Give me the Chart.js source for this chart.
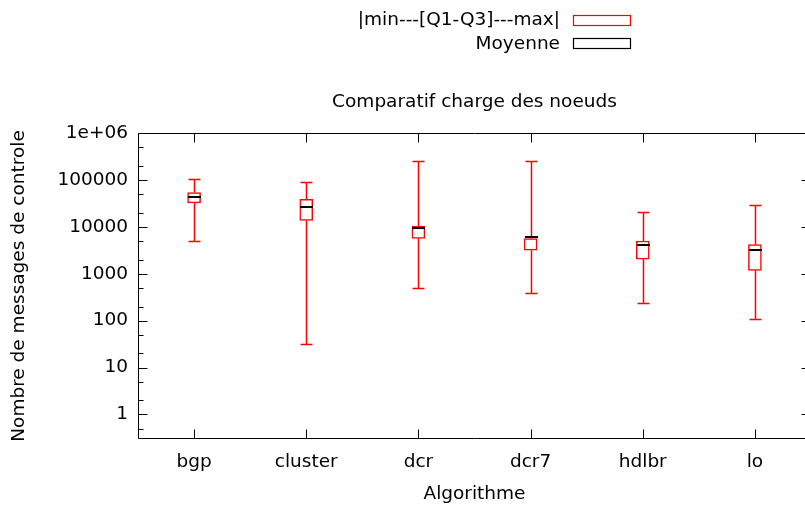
<!DOCTYPE html>
<html>
<head>
<meta charset="utf-8">
<script src="https://cdn.jsdelivr.net/npm/chart.js@4"></script>
<style>
html,body{margin:0;padding:0;overflow:hidden;background:#fff;}
#wrap{position:absolute;left:0;top:0;width:812px;height:506px;}
</style>
</head>
<body>
<div id="wrap"><canvas id="c"></canvas></div>
<script>
const categories = ['bgp','cluster','dcr','dcr7','hdlbr','lo'];
const minVals  = [5030, 32, 500, 390, 240, 110];
const q1Vals   = [32300, 13700, 5640, 3170, 2050, 1170];
const q3Vals   = [53600, 38700, 10200, 5640, 4980, 4160];
const maxVals  = [106000, 89500, 258000, 255000, 21000, 29700];
const meanVals = [44000, 26500, 9570, 6070, 4000, 3190];
const yTicks = [0.5,1,2,5,10,20,50,100,200,500,1000,2000,5000,10000,20000,50000,100000,200000,500000,1000000];
const chartTitle = 'Comparatif charge des noeuds';
const legendLabels = ['|min---[Q1-Q3]---max|', 'Moyenne'];

const FONT = '"DejaVu Sans"';
const FS = 18.5;
Chart.defaults.font.family = FONT;
Chart.defaults.font.size = FS;
Chart.defaults.color = '#000';

const isMajor = v => Math.abs(Math.log10(v) - Math.round(Math.log10(v))) < 1e-9;
const fmt = v => v >= 1e6 ? '1e+06' : String(v);

const boxPlugin = {
  id: 'boxExtras',
  afterDatasetsDraw(chart) {
    const ctx = chart.ctx, x = chart.scales.x, y = chart.scales.y;
    ctx.save();
    ctx.strokeStyle = '#ff0000';
    ctx.lineWidth = 1.5;
    for (let i = 0; i < categories.length; i++) {
      const cx = Math.round(x.getPixelForValue(i)) + 0.5;
      const pMin = Math.round(y.getPixelForValue(minVals[i])) + 0.5;
      const pMax = Math.round(y.getPixelForValue(maxVals[i])) + 0.5;
      const pQ1 = y.getPixelForValue(q1Vals[i]);
      const pQ3 = y.getPixelForValue(q3Vals[i]);
      ctx.beginPath();
      ctx.moveTo(cx, pMin); ctx.lineTo(cx, pQ1);
      ctx.moveTo(cx, pQ3); ctx.lineTo(cx, pMax);
      ctx.moveTo(cx - 6, pMin); ctx.lineTo(cx + 6, pMin);
      ctx.moveTo(cx - 6, pMax); ctx.lineTo(cx + 6, pMax);
      ctx.stroke();
    }
    ctx.strokeStyle = '#000';
    ctx.lineWidth = 2;
    for (let i = 0; i < categories.length; i++) {
      const cx = Math.round(x.getPixelForValue(i)) + 0.5;
      const pm = Math.round(y.getPixelForValue(meanVals[i]));
      ctx.beginPath();
      ctx.moveTo(cx - 6.5, pm); ctx.lineTo(cx + 6.5, pm);
      ctx.stroke();
    }
    ctx.restore();
  },
  afterDraw(chart) {
    const ctx = chart.ctx, x = chart.scales.x, y = chart.scales.y;
    const a = chart.chartArea;
    const L = Math.round(a.left) + 0.5, R = Math.round(a.right) - 0.5;
    const T = Math.round(a.top) + 0.5, B = Math.round(a.bottom) - 0.5;
    ctx.save();
    ctx.strokeStyle = '#000';
    ctx.lineWidth = 1;
    ctx.beginPath();
    ctx.rect(L, T, R - L, B - T);
    yTicks.forEach(v => {
      const p = Math.round(y.getPixelForValue(v)) + 0.5;
      if (p < T || p > B) return;
      const len = isMajor(v) ? 9 : 5;
      ctx.moveTo(L, p); ctx.lineTo(L + len, p);
      ctx.moveTo(R, p); ctx.lineTo(R - len, p);
    });
    for (let i = 0; i < categories.length; i++) {
      const p = Math.round(x.getPixelForValue(i)) + 0.5;
      ctx.moveTo(p, B); ctx.lineTo(p, B - 9);
      ctx.moveTo(p, T); ctx.lineTo(p, T + 9);
    }
    ctx.stroke();

    ctx.fillStyle = '#000';
    ctx.font = FS + 'px ' + FONT;
    ctx.textAlign = 'center';
    ctx.textBaseline = 'middle';
    ctx.fillText(chartTitle, (a.left + a.right) / 2, 102);

    ctx.textAlign = 'right';
    ctx.fillText(legendLabels[0], 560, 20);
    ctx.fillText(legendLabels[1], 560, 44);
    ctx.lineWidth = 1.2;
    ctx.strokeStyle = '#ff0000';
    ctx.strokeRect(573.5, 15.5, 57, 10);
    ctx.strokeStyle = '#000';
    ctx.strokeRect(573.5, 38.5, 57, 10);
    ctx.restore();
  }
};

new Chart(document.getElementById('c'), {
  type: 'bar',
  data: {
    labels: categories,
    datasets: [{
      label: legendLabels[0],
      data: categories.map((c, i) => [q1Vals[i], q3Vals[i]]),
      backgroundColor: '#ffffff',
      borderColor: '#ff0000',
      borderWidth: 1.5,
      borderSkipped: false,
      barThickness: 13
    }]
  },
  options: {
    responsive: true,
    maintainAspectRatio: false,
    animation: false,
    layout: { padding: { top: 133, left: 0, right: 1, bottom: 0 } },
    plugins: { legend: { display: false }, tooltip: { enabled: false }, title: { display: false } },
    scales: {
      x: {
        type: 'category',
        offset: true,
        grid: { display: false, drawTicks: false },
        border: { display: false },
        ticks: { padding: 12, maxRotation: 0, autoSkip: false, font: { size: FS } },
        title: { display: true, text: 'Algorithme', padding: { top: 0, bottom: 1 }, font: { size: FS } },
        afterFit(s) { s.height = 67; }
      },
      y: {
        type: 'logarithmic',
        min: 0.3,
        max: 1000000,
        grid: { display: false, drawTicks: false },
        border: { display: false },
        afterBuildTicks(s) { s.ticks = yTicks.map(v => ({ value: v, major: isMajor(v) })); },
        ticks: {
          autoSkip: false,
          padding: 10,
          font: { size: FS },
          callback: (v) => isMajor(v) ? fmt(v) : ''
        },
        title: { display: true, text: 'Nombre de messages de controle', padding: { top: 8, bottom: 0 }, font: { size: FS } },
        afterFit(s) { s.width = 138; }
      }
    }
  },
  plugins: [boxPlugin]
});
</script>
</body>
</html>
